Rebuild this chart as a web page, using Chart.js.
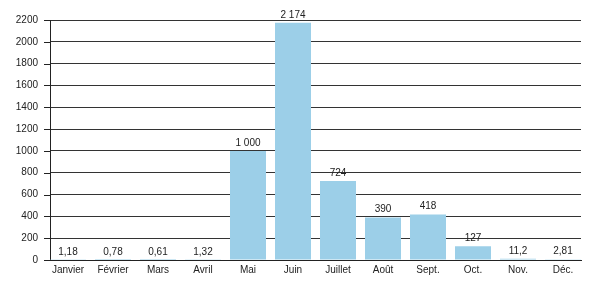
<!DOCTYPE html>
<html>
<head>
<meta charset="utf-8">
<script src="https://cdn.jsdelivr.net/npm/chart.js@4"></script>
<style>
  html, body { margin: 0; padding: 0; background: #fff; }
  #chart-wrapper { width: 600px; height: 300px; }
</style>
</head>
<body>
<div id="chart-wrapper"><canvas id="myChart" width="600" height="300"></canvas></div>
<script>
const months = ["Janvier", "Février", "Mars", "Avril", "Mai", "Juin", "Juillet", "Août", "Sept.", "Oct.", "Nov.", "Déc."];
const values = [1.18, 0.78, 0.61, 1.32, 1000, 2174, 724, 390, 418, 127, 11.2, 2.81];
const valueLabels = ["1,18", "0,78", "0,61", "1,32", "1 000", "2 174", "724", "390", "418", "127", "11,2", "2,81"];
const yMax = 2200;

Chart.defaults.font.family = "'Liberation Sans', Arial, sans-serif";
Chart.defaults.font.size = 10;
Chart.defaults.color = "#222";

// value labels above bars + little tick marks on the y axis
const extras = {
  id: "extras",
  afterDatasetsDraw(chart) {
    const ctx = chart.ctx;
    const meta = chart.getDatasetMeta(0);
    ctx.save();
    ctx.font = "10px 'Liberation Sans', Arial, sans-serif";
    ctx.fillStyle = "#222";
    ctx.textAlign = "center";
    ctx.textBaseline = "bottom";
    meta.data.forEach((bar, i) => {
      ctx.fillText(valueLabels[i], bar.x, bar.y - 3);
    });
    const y = chart.scales.y;
    ctx.strokeStyle = "#222";
    ctx.lineWidth = 1;
    y.ticks.forEach(t => {
      const py = Math.round(y.getPixelForValue(t.value)) + 0.5;
      const len = t.value % 200 === 0 ? 6 : 3;
      ctx.beginPath();
      ctx.moveTo(y.right - len, py);
      ctx.lineTo(y.right, py);
      ctx.stroke();
    });
    ctx.restore();
  }
};

new Chart(document.getElementById("myChart"), {
  type: "bar",
  data: {
    datasets: [{
      data: values.map((v, i) => ({ x: i, y: v })),
      backgroundColor: "#9ccfe8",
      borderWidth: 0,
      barPercentage: 0.8,
      categoryPercentage: 1
    }]
  },
  options: {
    responsive: false,
    animation: false,
    layout: { padding: { top: 20, right: 19, bottom: 0, left: 0 } },
    plugins: { legend: { display: false }, tooltip: { enabled: false } },
    scales: {
      x: {
        type: "linear",
        offset: false,
        // bars sit flush with both ends of the axis
        min: -0.4,
        max: months.length - 0.6,
        grid: { display: false, drawTicks: false },
        border: { color: "#222", width: 1 },
        ticks: {
          stepSize: 1,
          includeBounds: false,
          padding: 4,
          autoSkip: false,
          maxRotation: 0,
          callback: v => months[v] || ""
        },
        afterFit: s => { s.height = 40; }
      },
      y: {
        min: 0,
        max: yMax,
        grid: {
          drawTicks: false,
          color: c => (c.tick && c.tick.value % 200 === 0) ? "#333" : "#c8c8c8",
          lineWidth: 1
        },
        border: { color: "#222", width: 1 },
        ticks: {
          stepSize: 100,
          padding: 12,
          callback: v => (v % 200 === 0 ? String(v) : "")
        },
        afterFit: s => { s.width = 50; }
      }
    }
  },
  plugins: [extras]
});
</script>
</body>
</html>
